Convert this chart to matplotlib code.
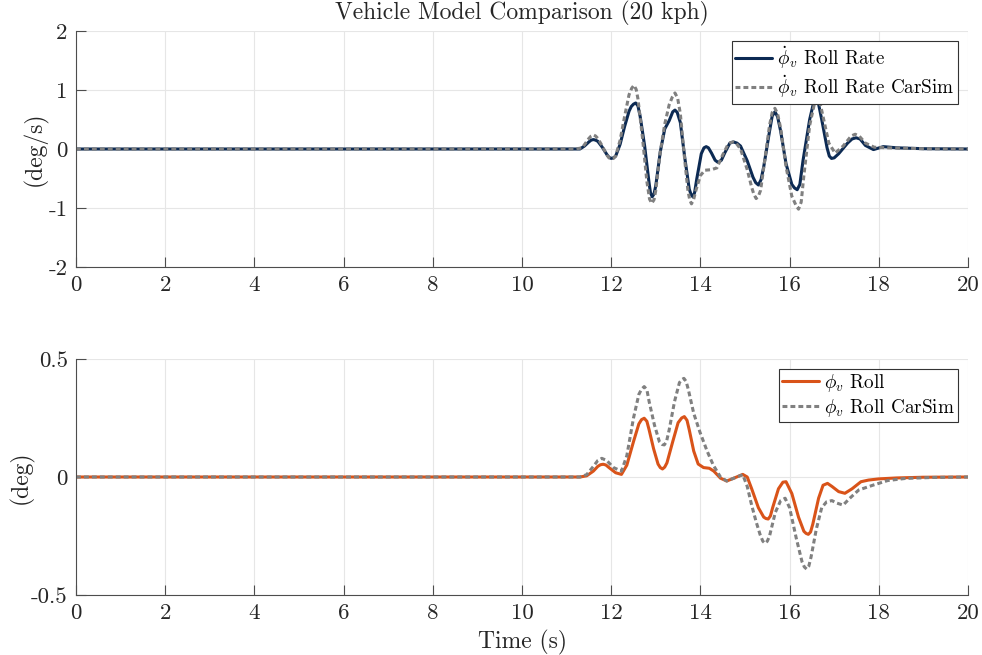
import matplotlib
matplotlib.use("Agg")
import matplotlib.pyplot as plt

plt.rcParams['font.family'] = ['cmr10', 'DejaVu Serif']
plt.rcParams['mathtext.fontset'] = 'cm'
plt.rcParams['axes.unicode_minus'] = False
plt.rcParams['axes.formatter.use_mathtext'] = True

# ---- Roll rate (deg/s) ----
t_rate_model = [0, 11.2, 11.3, 11.4, 11.5, 11.55, 11.6, 11.65, 11.7, 11.8, 11.9, 11.95, 12.0, 12.05, 12.1,
                12.2, 12.3, 12.4, 12.45, 12.5, 12.55, 12.6, 12.65, 12.75, 12.85, 12.88, 12.92, 12.96, 13.0,
                13.1, 13.2, 13.3, 13.38, 13.43, 13.48, 13.55, 13.65, 13.75, 13.79, 13.83, 13.87, 13.92,
                14.02, 14.08, 14.13, 14.18, 14.25, 14.33, 14.4, 14.47, 14.55, 14.66, 14.74, 14.82, 14.9,
                15.05, 15.18, 15.24, 15.3, 15.36, 15.42, 15.55, 15.61, 15.67, 15.73, 15.8, 15.92, 16.05,
                16.11, 16.17, 16.23, 16.3, 16.45, 16.53, 16.59, 16.65, 16.72, 16.84, 16.89, 16.94, 17.0,
                17.1, 17.3, 17.4, 17.49, 17.58, 17.7, 17.88, 18.1, 18.4, 19.0, 20.0]
v_rate_model = [0, 0, 0.0, 0.05, 0.12, 0.15, 0.16, 0.15, 0.13, 0.03, -0.09, -0.14, -0.16, -0.15, -0.12,
                0.08, 0.38, 0.64, 0.72, 0.76, 0.78, 0.73, 0.55, 0.05, -0.58, -0.74, -0.81, -0.76, -0.62,
                -0.05, 0.34, 0.48, 0.63, 0.66, 0.62, 0.45, -0.15, -0.68, -0.77, -0.81, -0.74, -0.5,
                -0.08, 0.02, 0.04, 0.02, -0.07, -0.19, -0.23, -0.19, -0.06, 0.1, 0.12, 0.1, 0.05,
                -0.2, -0.48, -0.57, -0.61, -0.52, -0.3, 0.3, 0.56, 0.63, 0.55, 0.3, -0.25, -0.6,
                -0.66, -0.69, -0.6, -0.2, 0.5, 0.76, 0.83, 0.76, 0.5, 0.02, -0.12, -0.16, -0.15,
                -0.08, 0.1, 0.17, 0.19, 0.17, 0.06, -0.01, 0.04, 0.02, 0.005, 0.0]

t_rate_carsim = [0, 11.2, 11.35, 11.5, 11.55, 11.6, 11.65, 11.7, 11.8, 11.9, 11.95, 12.0, 12.05, 12.1, 12.2,
                 12.3, 12.4, 12.46, 12.51, 12.56, 12.6, 12.7, 12.8, 12.86, 12.91, 12.96, 13.0, 13.1, 13.2,
                 13.3, 13.37, 13.43, 13.49, 13.55, 13.65, 13.72, 13.76, 13.8, 13.85, 13.9, 14.0, 14.1,
                 14.25, 14.37, 14.5, 14.62, 14.68, 14.74, 14.8, 14.9, 15.05, 15.15, 15.2, 15.25, 15.3,
                 15.35, 15.45, 15.55, 15.61, 15.67, 15.73, 15.8, 15.92, 16.05, 16.14, 16.2, 16.26, 16.32,
                 16.45, 16.56, 16.62, 16.68, 16.75, 16.88, 17.02, 17.2, 17.38, 17.47, 17.56, 17.7, 17.9,
                 18.2, 19.0, 20.0]
v_rate_carsim = [0, 0, 0.02, 0.18, 0.22, 0.24, 0.22, 0.18, 0.05, -0.1, -0.15, -0.17, -0.16, -0.12, 0.15,
                 0.55, 0.92, 1.03, 1.08, 1.01, 0.85, 0.2, -0.55, -0.85, -0.92, -0.86, -0.7, -0.05, 0.42,
                 0.75, 0.88, 0.95, 0.86, 0.6, -0.2, -0.7, -0.86, -0.93, -0.85, -0.7, -0.45, -0.36,
                 -0.35, -0.32, -0.1, 0.08, 0.11, 0.12, 0.1, 0.0, -0.35, -0.65, -0.77, -0.84, -0.8,
                 -0.7, -0.15, 0.4, 0.62, 0.69, 0.6, 0.35, -0.3, -0.8, -0.95, -1.02, -0.9, -0.45,
                 0.4, 0.78, 0.86, 0.79, 0.55, 0.1, -0.07, 0.05, 0.22, 0.25, 0.22, 0.1, 0.03,
                 0.02, 0.005, 0.0]

# ---- Roll (deg) ----
t_roll_model = [0, 11.3, 11.45, 11.6, 11.7, 11.76, 11.82, 11.88, 11.95, 12.1, 12.23, 12.35, 12.5, 12.62,
                12.68, 12.74, 12.8, 12.85, 12.95, 13.05, 13.1, 13.15, 13.2, 13.25, 13.38, 13.5, 13.58,
                13.64, 13.7, 13.75, 13.85, 13.95, 14.07, 14.2, 14.3, 14.45, 14.59, 14.75, 14.95, 15.05,
                15.15, 15.3, 15.42, 15.47, 15.52, 15.57, 15.62, 15.75, 15.85, 15.92, 16.05, 16.2, 16.32,
                16.37, 16.42, 16.47, 16.52, 16.65, 16.75, 16.85, 16.95, 17.1, 17.24, 17.4, 17.6, 17.77,
                18.0, 18.4, 19.0, 20.0]
v_roll_model = [0, 0, 0.005, 0.025, 0.045, 0.052, 0.054, 0.051, 0.04, 0.018, 0.011, 0.05, 0.15, 0.225,
                0.243, 0.249, 0.236, 0.2, 0.12, 0.055, 0.04, 0.034, 0.042, 0.06, 0.15, 0.23, 0.25,
                0.256, 0.24, 0.2, 0.11, 0.055, 0.04, 0.037, 0.025, -0.005, -0.017, -0.005, 0.011, 0.0,
                -0.05, -0.13, -0.17, -0.176, -0.178, -0.165, -0.13, -0.05, -0.022, -0.02, -0.07, -0.17, -0.23,
                -0.239, -0.243, -0.233, -0.2, -0.09, -0.035, -0.027, -0.04, -0.062, -0.069, -0.05, -0.02, -0.013,
                -0.008, -0.004, -0.001, 0.0]

t_roll_carsim = [0, 11.3, 11.45, 11.6, 11.7, 11.79, 11.9, 12.05, 12.23, 12.35, 12.5, 12.62, 12.68, 12.74,
                 12.8, 12.85, 12.97, 13.08, 13.14, 13.19, 13.24, 13.3, 13.42, 13.53, 13.58, 13.63, 13.68,
                 13.73, 13.85, 13.99, 14.15, 14.29, 14.45, 14.59, 14.75, 14.95, 15.05, 15.15, 15.25, 15.34,
                 15.4, 15.45, 15.5, 15.55, 15.68, 15.8, 15.9, 16.0, 16.15, 16.28, 16.33, 16.38, 16.43,
                 16.48, 16.6, 16.72, 16.83, 16.95, 17.05, 17.2, 17.35, 17.55, 17.88, 18.2, 18.6, 19.2, 20.0]
v_roll_carsim = [0, 0, 0.01, 0.045, 0.07, 0.079, 0.07, 0.04, 0.025, 0.09, 0.25, 0.35, 0.372, 0.383,
                 0.37, 0.32, 0.22, 0.15, 0.138, 0.136, 0.15, 0.2, 0.32, 0.4, 0.412, 0.418, 0.405,
                 0.37, 0.27, 0.19, 0.11, 0.05, 0.0, -0.017, -0.005, 0.01, -0.04, -0.12, -0.19, -0.245,
                 -0.272, -0.281, -0.272, -0.25, -0.15, -0.1, -0.09, -0.13, -0.26, -0.36, -0.381, -0.39, -0.378,
                 -0.34, -0.22, -0.13, -0.105, -0.1, -0.11, -0.119, -0.09, -0.055, -0.034, -0.015, -0.006, -0.002, 0.0]

x_ticks = [0, 2, 4, 6, 8, 10, 12, 14, 16, 18, 20]
x_tick_labels = ['0', '2', '4', '6', '8', '10', '12', '14', '16', '18', '20']
y1_ticks = [-2, -1, 0, 1, 2]
y1_tick_labels = ['-2', '-1', '0', '1', '2']
y2_ticks = [-0.5, 0, 0.5]
y2_tick_labels = ['-0.5', '0', '0.5']

NAVY = '#0c2a53'
ORANGE = '#d95319'
GRAY = '#808080'
AX = '#4d4d4d'
TXT = '#262626'

fig = plt.figure(figsize=(9.82, 6.55), dpi=100)
ax1 = fig.add_axes([76/982, 1-267/655, (968-76)/982, (267-31)/655])
ax2 = fig.add_axes([76/982, 1-595/655, (968-76)/982, (595-359)/655])

def style(ax, yt, ytl):
    ax.set_xlim(0, 20)
    ax.set_xticks(x_ticks)
    ax.set_xticklabels(x_tick_labels)
    ax.set_yticks(yt)
    ax.set_yticklabels(ytl)
    ax.set_ylim(yt[0], yt[-1])
    ax.grid(True, color='#e6e6e6', linewidth=0.8)
    ax.set_axisbelow(True)
    for s in ['top', 'right']:
        ax.spines[s].set_visible(False)
    for s in ['left', 'bottom']:
        ax.spines[s].set_color(AX)
        ax.spines[s].set_linewidth(0.8)
    ax.tick_params(direction='in', length=7, width=0.8, color=AX, labelsize=16.5,
                   labelcolor=TXT, pad=6)

style(ax1, y1_ticks, y1_tick_labels)
style(ax2, y2_ticks, y2_tick_labels)

kw = dict(lw=2.2, solid_joinstyle='round', solid_capstyle='round')
ax1.plot(t_rate_model, v_rate_model, color=NAVY, label=r'$\dot{\phi}_v$ Roll Rate', **kw)
ax1.plot(t_rate_carsim, v_rate_carsim, color=GRAY, lw=2.2, dashes=(1.6, 1.0),
         label=r'$\dot{\phi}_v$ Roll Rate CarSim')
ax2.plot(t_roll_model, v_roll_model, color=ORANGE, label=r'$\phi_v$ Roll', **kw)
ax2.plot(t_roll_carsim, v_roll_carsim, color=GRAY, lw=2.2, dashes=(1.6, 1.0),
         label=r'$\phi_v$ Roll CarSim')

for ax in (ax1, ax2):
    leg = ax.legend(loc='upper right', fontsize=13.8, frameon=True, fancybox=False,
                    borderaxespad=0.5, handlelength=1.9, handletextpad=0.3,
                    borderpad=0.18, labelspacing=0.15, framealpha=1)
    leg.get_frame().set_edgecolor('#333333')
    leg.get_frame().set_linewidth(0.8)

ax1.set_ylabel('(deg/s)', fontsize=17, color=TXT, labelpad=1)
ax2.set_ylabel('(deg)', fontsize=17, color=TXT, labelpad=-2)
ax2.set_xlabel('Time (s)', fontsize=17, color=TXT, labelpad=5)
ax1.set_title('Vehicle Model Comparison (20 kph)', fontsize=17, color=TXT, pad=8)

fig.savefig('out.png', dpi=100)
